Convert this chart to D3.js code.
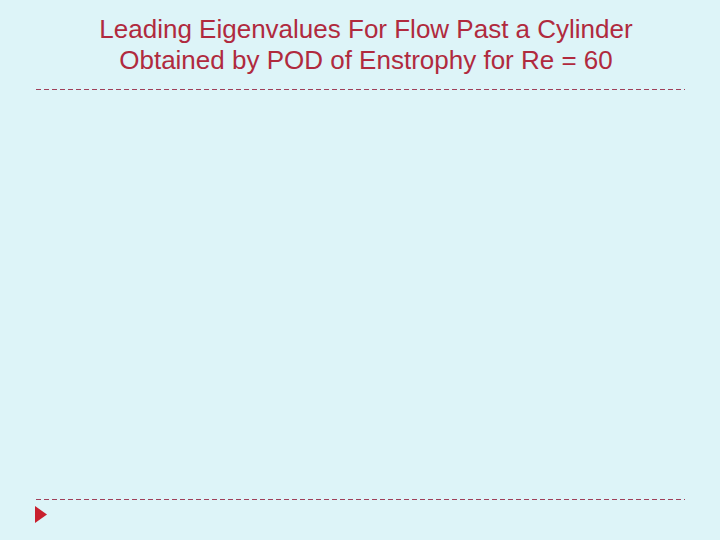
<!DOCTYPE html>
<html>
<head>
<meta charset="utf-8">
<script src="https://cdn.jsdelivr.net/npm/d3@7"></script>
<style>
  html, body { margin: 0; padding: 0; background: #ddf4f8; }
  svg { display: block; }
</style>
</head>
<body>
<svg id="slide" width="720" height="540"></svg>
<script>
// slide content
const titleLines = [
  'Leading Eigenvalues For Flow Past a Cylinder',
  'Obtained by POD of Enstrophy for Re = 60'
];
const ruleRows = ['top', 'bottom'];

(function(){
  const svg = d3.select('#slide');
  const W = 720, H = 540;
  const red = '#b02a3e';

  svg.append('rect').attr('width', W).attr('height', H).attr('fill', '#ddf4f8');

  const y = d3.scalePoint().domain(ruleRows).range([89.5, 499.5]);
  const x = d3.scaleLinear().domain([0, 1]).range([36, 685]);

  svg.selectAll('line.rule')
    .data(ruleRows)
    .join('line')
    .attr('class', 'rule')
    .attr('x1', x(0)).attr('x2', x(1))
    .attr('y1', d => y(d)).attr('y2', d => y(d))
    .attr('stroke', '#a0405a')
    .attr('stroke-width', 1)
    .attr('stroke-dasharray', '5,3');

  const ty = d3.scaleBand().domain(d3.range(titleLines.length)).range([12, 74]);
  svg.selectAll('text.title')
    .data(titleLines)
    .join('text')
    .attr('class', 'title')
    .attr('x', 366)
    .attr('y', (d, i) => ty(i) + ty.bandwidth() - 5)
    .attr('text-anchor', 'middle')
    .attr('font-family', 'Liberation Sans, Arial, sans-serif')
    .attr('font-size', 26)
    .attr('fill', red)
    .text(d => d);

  // bullet marker
  svg.append('path')
    .attr('d', 'M35,506 L47,514.5 L35,523 Z')
    .attr('fill', '#c8202e');
})();
</script>
</body>
</html>
